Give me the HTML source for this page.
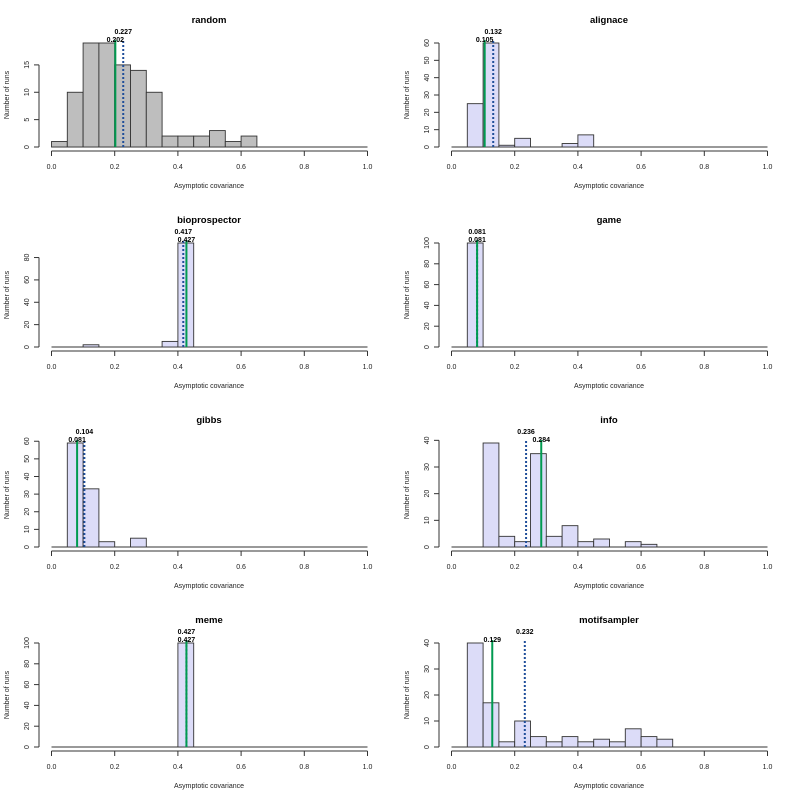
<!DOCTYPE html>
<html><head><meta charset="utf-8"><style>
html,body{margin:0;padding:0;background:#fff;}
svg{display:block;font-family:"Liberation Sans",Arial,sans-serif;}
</style></head><body>
<svg id="s" width="800" height="800" xmlns="http://www.w3.org/2000/svg"></svg>
<script>
var P=[
{t:"random",c:[1,10,19,19,15,14,10,2,2,2,3,1,2],f:"#bebebe",tk:[0,5,10,15],g:0.202,b:0.227,up:"b"},
{t:"alignace",c:[0,25,60,1,5,0,0,2,7],f:"#dcdcf8",tk:[0,10,20,30,40,50,60],g:0.105,b:0.132,up:"b"},
{t:"bioprospector",c:[0,0,2,0,0,0,0,5,93],f:"#dcdcf8",tk:[0,20,40,60,80],g:0.427,b:0.417,up:"b"},
{t:"game",c:[0,100],f:"#dcdcf8",tk:[0,20,40,60,80,100],g:0.081,b:0.081,up:"b"},
{t:"gibbs",c:[0,59,33,3,0,5],f:"#dcdcf8",tk:[0,10,20,30,40,50,60],g:0.081,b:0.104,up:"b"},
{t:"info",c:[0,0,39,4,2,35,4,8,2,3,0,2,1],f:"#dcdcf8",tk:[0,10,20,30,40],g:0.284,b:0.236,up:"b"},
{t:"meme",c:[0,0,0,0,0,0,0,0,100],f:"#dcdcf8",tk:[0,20,40,60,80,100],g:0.427,b:0.427,up:"b"},
{t:"motifsampler",c:[0,40,17,2,10,4,2,4,2,3,2,7,4,3],f:"#dcdcf8",tk:[0,10,20,30,40],g:0.129,b:0.232,up:"b"}
];
var h="";
P.forEach(function(p,i){
 var ox=(i%2)*400, oy=Math.floor(i/2)*200;
 var X=function(v){return ox+51.5+v*316;};
 var mx=Math.max.apply(null,p.c);
 var Y=function(v){return oy+147-v/mx*104;};
 h+='<text x="'+(ox+209)+'" y="'+(oy+23)+'" font-size="9.5" font-weight="bold" text-anchor="middle">'+p.t+'</text>';
 // baseline
 h+='<line x1="'+X(0)+'" x2="'+X(1)+'" y1="'+(oy+147)+'" y2="'+(oy+147)+'" stroke="#333" stroke-width="1"/>';
 for(var k=0;k<p.c.length;k++){ if(p.c[k]>0){
  h+='<rect x="'+X(k*0.05)+'" y="'+Y(p.c[k])+'" width="'+(316*0.05)+'" height="'+(oy+147-Y(p.c[k]))+'" fill="'+p.f+'" stroke="#333" stroke-width="0.9"/>';}}
 // y axis
 var t=p.tk, yl=t[t.length-1];
 h+='<line x1="'+(ox+39)+'" x2="'+(ox+39)+'" y1="'+Y(0)+'" y2="'+Y(yl)+'" stroke="#333"/>';
 t.forEach(function(v){h+='<line x1="'+(ox+34)+'" x2="'+(ox+39)+'" y1="'+Y(v)+'" y2="'+Y(v)+'" stroke="#333"/>';
  h+='<text transform="translate('+(ox+29)+','+Y(v)+') rotate(-90)" font-size="7" text-anchor="middle" fill="#222">'+v+'</text>';});
 h+='<text transform="translate('+(ox+9)+','+(oy+95)+') rotate(-90)" font-size="7" text-anchor="middle" fill="#222">Number of runs</text>';
 // x axis
 h+='<line x1="'+X(0)+'" x2="'+X(1)+'" y1="'+(oy+151)+'" y2="'+(oy+151)+'" stroke="#333"/>';
 [0,0.2,0.4,0.6,0.8,1].forEach(function(v){h+='<line x1="'+X(v)+'" x2="'+X(v)+'" y1="'+(oy+151)+'" y2="'+(oy+156)+'" stroke="#333"/>';
  h+='<text x="'+X(v)+'" y="'+(oy+169)+'" font-size="7" text-anchor="middle" fill="#222">'+v.toFixed(1)+'</text>';});
 h+='<text x="'+(ox+209)+'" y="'+(oy+188)+'" font-size="7" text-anchor="middle" fill="#222">Asymptotic covariance</text>';
 // lines
 h+='<line x1="'+X(p.b)+'" x2="'+X(p.b)+'" y1="'+(oy+147)+'" y2="'+(oy+40)+'" stroke="#1f4e9a" stroke-width="2" stroke-dasharray="2,2"/>';
 h+='<line x1="'+X(p.g)+'" x2="'+X(p.g)+'" y1="'+(oy+147)+'" y2="'+(oy+40)+'" stroke="#009a50" stroke-width="2"/>';
 h+='<text x="'+X(p.b)+'" y="'+(oy+34)+'" font-size="7" font-weight="bold" text-anchor="middle">'+p.b.toFixed(3)+'</text>';
 h+='<text x="'+X(p.g)+'" y="'+(oy+42)+'" font-size="7" font-weight="bold" text-anchor="middle">'+p.g.toFixed(3)+'</text>';
});
document.getElementById("s").innerHTML=h;
</script>
</body></html>
